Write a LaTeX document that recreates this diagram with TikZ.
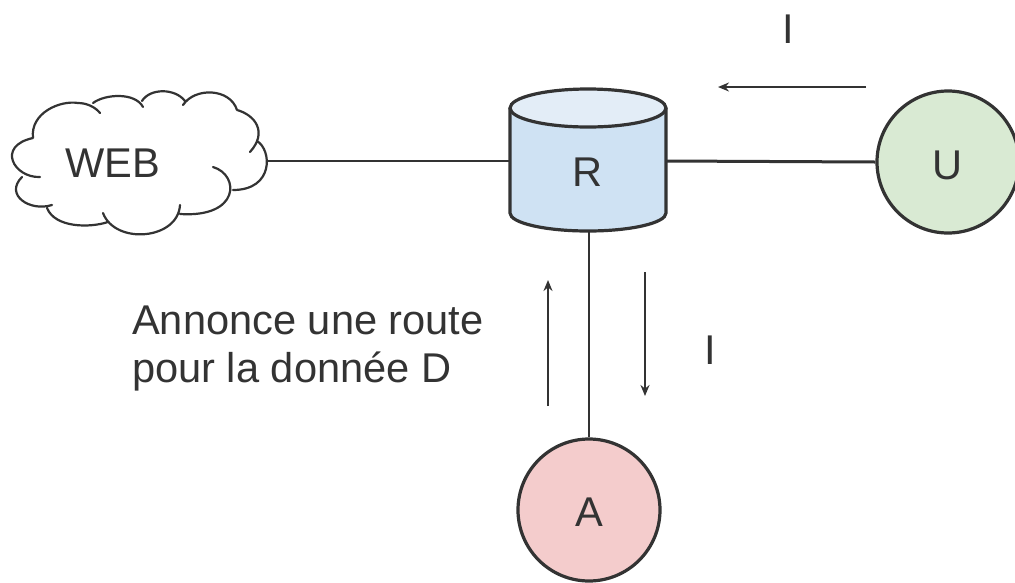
\documentclass[tikz,border=0pt]{standalone}
\usepackage{fontspec}
\setmainfont{Liberation Sans}
\usetikzlibrary{arrows.meta}
\definecolor{rblue}{HTML}{CFE2F3}
\definecolor{rtop}{HTML}{E3EDF7}
\definecolor{ugreen}{HTML}{D9EAD3}
\definecolor{ared}{HTML}{F4CCCC}
\definecolor{ink}{HTML}{333333}
\tikzset{
  outline/.style={draw=ink,line width=3.2pt},
  link/.style={draw=ink,line width=2pt},
  flow/.style={draw=ink,line width=2pt,-{Stealth[length=11pt,width=9pt]}},
  lbl/.style={text=ink,inner sep=0pt,font=\fontsize{41.6}{48}\selectfont},
  disc/.style={circle,outline,minimum size=142pt,inner sep=0pt},
}
\begin{document}
\begin{tikzpicture}[x=1pt,y=-1pt]
\useasboundingbox (0,0) rectangle (1015,582);
\begin{scope}
\clip (0,0) rectangle (1015,582);
% cloud
\draw[draw=ink,line width=2.2pt,line cap=round]
  (33,138) .. controls (30,113) and (60,100) .. (78,103) .. controls (88,103) and (96,108) .. (100,113)
  (93,103) .. controls (105,94) and (135,92) .. (143,107)
  (142,101) .. controls (150,88) and (175,88) .. (185,101)
  (183,105) .. controls (195,87) and (230,88) .. (237,110)
  (237,110) .. controls (255,115) and (268,132) .. (250,152)
  (257,141) .. controls (272,150) and (274,190) .. (233,190)
  (213,167) .. controls (240,175) and (240,218) .. (180,214)
  (180,205) .. controls (178,240) and (115,245) .. (103,213)
  (108,222) .. controls (90,228) and (55,228) .. (47,208)
  (52,205) .. controls (30,212) and (4,195) .. (22,177)
  (40,177) .. controls (14,178) and (-4,146) .. (33,138);
\node[lbl] (web) at (113,163) {WEB};
\coordinate (webR) at (266,161);
% cylinder
\path[fill=rblue] (510,108) -- (510,213) arc[start angle=180,end angle=0,x radius=78,y radius=18] -- (666,108) -- cycle;
\draw[outline] (510,108) -- (510,213) arc[start angle=180,end angle=0,x radius=78,y radius=18] -- (666,108);
\draw[outline,fill=rtop] (588,108) ellipse[x radius=78,y radius=19];
\node[lbl] (r) at (588,172) {R};
\coordinate (rL) at (510,161);
\coordinate (rR) at (666,161);
\coordinate (rB) at (589,232);
% circles
\node[disc,fill=ugreen] (u) at (948,162) {};
\node[disc,fill=ared] (a) at (589,510) {};
\node[lbl] (ut) at (948,165) {U};
\node[lbl] (at) at (589,512) {A};
% links
\draw[link] (webR) -- (rL);
\draw[link,line width=3pt] (rR) -- (u.west);
\draw[link] (rB) -- (a.north);
% arrows
\coordinate (t1) at (866,87); \coordinate (t2) at (718,87);
\coordinate (l1) at (548,406); \coordinate (l2) at (548,280);
\coordinate (d1) at (645,272); \coordinate (d2) at (645,396);
\draw[flow] (t1) -- (t2);
\draw[flow] (l1) -- (l2);
\draw[flow] (d1) -- (d2);
% labels
\node[lbl] (i1) at (788,29) {I};
\node[lbl] (i2) at (710,350) {I};
\node[lbl,anchor=north west,align=left] (ann) at (132,306) {Annonce une route\\pour la donnée D};
\end{scope}
\end{tikzpicture}
\end{document}
